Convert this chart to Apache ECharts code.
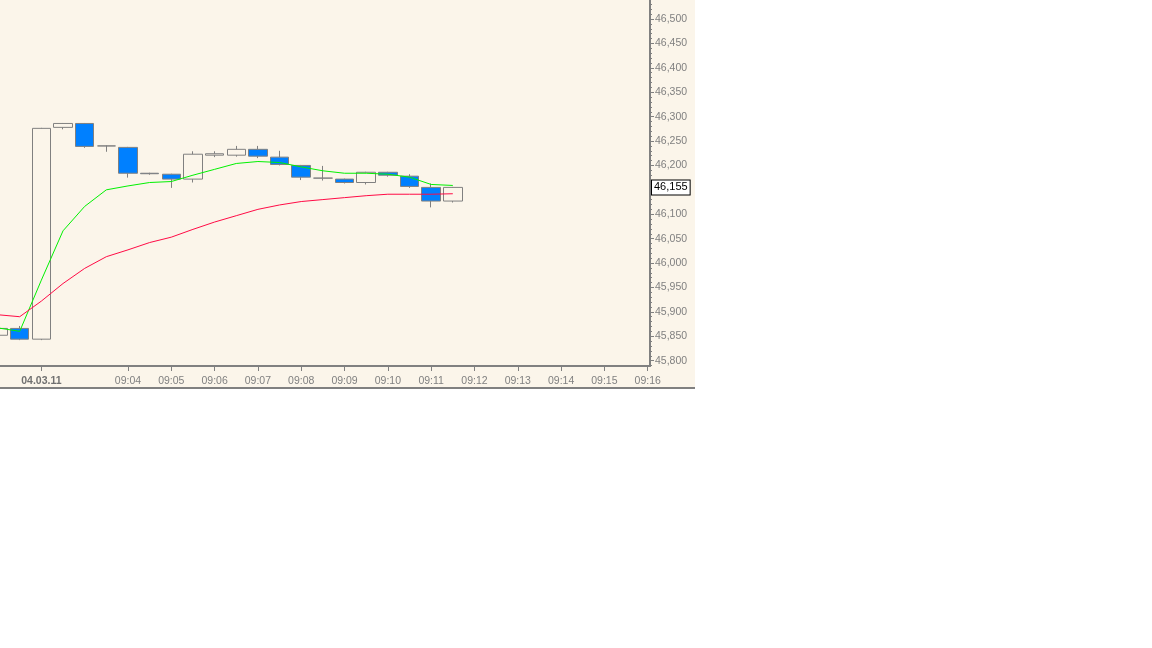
<!DOCTYPE html>
<html><head><meta charset="utf-8">
<script src="https://cdn.jsdelivr.net/npm/echarts@6/dist/echarts.min.js"></script>
<style>
html,body{margin:0;padding:0;background:#ffffff;}
#chart{width:695px;height:389px;background:#FBF5EA;}
</style>
</head><body>
<div id="chart"></div>
<script>
// 30-second bars
const times  = ['09:01:00','09:01:30','09:02:00','09:02:30','09:03:00','09:03:30','09:04:00','09:04:30','09:05:00','09:05:30','09:06:00','09:06:30','09:07:00','09:07:30','09:08:00','09:08:30','09:09:00','09:09:30','09:10:00','09:10:30','09:11:00','09:11:30'];
const opens  = [45852,45866,45844,46278,46286,46240,46237,46184,46182,46172,46221,46221,46233,46217,46200,46174,46172,46165,46186,46178,46155,46127];
const closes = [45866,45844,46276,46286,46239,46240,46184,46183,46172,46223,46224,46233,46219,46202,46176,46174,46165,46186,46180,46157,46127,46155];
const lows   = [45848,45842,45842,46274,46236,46228,46175,46181,46154,46165,46217,46218,46215,46200,46170,46169,46163,46161,46177,46154,46114,46124];
const highs  = [45869,45871,46277,46287,46287,46241,46238,46185,46183,46229,46229,46240,46240,46230,46201,46199,46173,46187,46187,46182,46163,46156];
const maFast = [45867,45860,45965,46066,46116,46150,46158,46165,46167,46180,46192,46204,46208,46206,46197,46189,46184,46184,46182,46176,46161,46159];
const maSlow = [45894,45890,45922,45958,45989,46013,46027,46042,46053,46069,46084,46097,46110,46119,46126,46130,46134,46138,46141,46141,46141,46142];
const xTickTimes  = ['09:02','09:04','09:05','09:06','09:07','09:08','09:09','09:10','09:11','09:12','09:13','09:14','09:15','09:16'];
const xTickLabels = ['04.03.11','09:04','09:05','09:06','09:07','09:08','09:09','09:10','09:11','09:12','09:13','09:14','09:15','09:16'];
const yLabelValues = [45800,45850,45900,45950,46000,46050,46100,46150,46200,46250,46300,46350,46400,46450,46500];
const yMinorValues = [45790,45800,45810,45820,45830,45840,45850,45860,45870,45880,45890,45900,45910,45920,45930,45940,45950,45960,45970,45980,45990,46000,46010,46020,46030,46040,46050,46060,46070,46080,46090,46100,46110,46120,46130,46140,46150,46160,46170,46180,46190,46200,46210,46220,46230,46240,46250,46260,46270,46280,46290,46300,46310,46320,46330,46340,46350,46360,46370,46380,46390,46400,46410,46420,46430,46440,46450,46460,46470,46480,46490,46500,46510,46520,46530];
const lastPrice = 46155;

function toMin(t){ const p = t.split(':').map(Number); return (p[0]-9)*60 + p[1] + (p[2]||0)/60; }
function fmt(v){ return String(Math.round(v)).replace(/\B(?=(\d{3})+(?!\d))/g, ','); }

const xs = times.map(toMin);
const candleData = xs.map((x,i)=>[x, opens[i], closes[i], lows[i], highs[i]]);
const fastData = xs.map((x,i)=>[x, maFast[i]]);
const slowData = xs.map((x,i)=>[x, maSlow[i]]);
const xTickVals = xTickTimes.map(toMin);

const gray = '#808080';
const bg = '#FBF5EA';
const font = 'Liberation Sans, Arial, sans-serif';

const chart = echarts.init(document.getElementById('chart'));
chart.setOption({
  animation: false,
  backgroundColor: bg,
  grid: { left: 0, top: 0, width: 650, height: 366, containLabel: false },
  xAxis: {
    type: 'value', min: 1.045, max: 16.053,
    splitLine: { show: false },
    axisLine: { show: true, lineStyle: { color: gray, width: 2 } },
    axisTick: { show: true, length: 5, customValues: xTickVals, lineStyle: { color: gray, width: 1 } },
    axisLabel: {
      show: true, customValues: xTickVals, margin: 10,
      color: gray, fontFamily: font, fontSize: 10.5,
      formatter: function(v){
        const i = xTickVals.findIndex(t => Math.abs(t - v) < 1e-6);
        const s = i >= 0 ? xTickLabels[i] : '';
        return i === 0 ? '{b|' + s + '}' : s;
      },
      rich: { b: { fontWeight: 'bold', color: '#707070', fontFamily: font, fontSize: 10.5 } }
    }
  },
  yAxis: [{
    type: 'value', position: 'right', min: 45789, max: 46539,
    splitLine: { show: false },
    axisLine: { show: true, lineStyle: { color: gray, width: 2 } },
    axisTick: { show: true, length: 4, customValues: yLabelValues, lineStyle: { color: gray, width: 1 } },
    axisLabel: { show: true, customValues: yLabelValues, margin: 5, color: gray, fontFamily: font, fontSize: 10.5, formatter: fmt }
  }, {
    type: 'value', position: 'right', min: 45789, max: 46539,
    splitLine: { show: false },
    axisLine: { show: false },
    axisTick: { show: true, length: 2, customValues: yMinorValues, lineStyle: { color: gray, width: 1 } },
    axisLabel: { show: false }
  }],
  series: [{
    type: 'candlestick',
    data: candleData,
    barWidth: 19,
    itemStyle: {
      color: bg, color0: '#0080FF',
      borderColor: gray, borderColor0: gray, borderColorDoji: gray, borderWidth: 1
    },
    markLine: {
      silent: true, symbol: ['none','none'],
      lineStyle: { width: 0, color: 'rgba(0,0,0,0)', opacity: 1 },
      data: [{ yAxis: lastPrice }],
      label: {
        show: true, position: 'end', distance: 2, formatter: fmt(lastPrice),
        color: '#000', fontFamily: font, fontSize: 11,
        backgroundColor: '#fff', borderColor: '#000', borderWidth: 1, padding: [2,2,1,2]
      }
    }
  }, {
    type: 'line', data: fastData, symbol: 'none',
    lineStyle: { color: '#00F000', width: 1 }
  }, {
    type: 'line', data: slowData, symbol: 'none',
    lineStyle: { color: '#FF0A45', width: 1 }
  }],
  graphic: [{
    type: 'line', shape: { x1: 0, y1: 388, x2: 695, y2: 388 },
    style: { stroke: gray, lineWidth: 2 }, z: 100
  }]
});
</script>
</body></html>
